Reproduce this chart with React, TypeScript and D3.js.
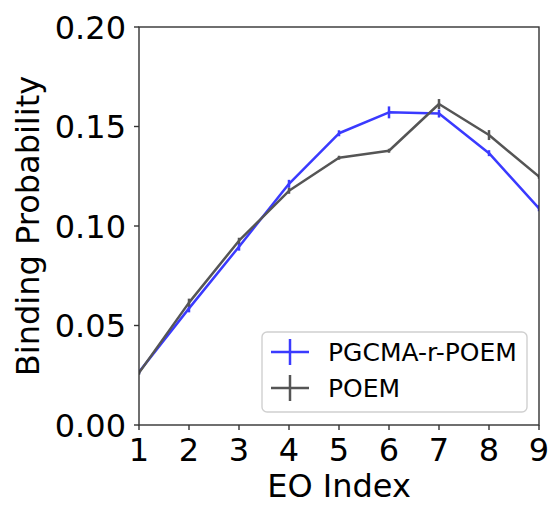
import React from "react";
import * as d3 from "d3";

const eoIndex = [1, 2, 3, 4, 5, 6, 7, 8, 9];
const pgcmaValues = [0.0266, 0.0586, 0.0896, 0.1212, 0.1466, 0.1571, 0.1565, 0.1366, 0.1089];
const pgcmaErrors = [0.001, 0.002, 0.002, 0.002, 0.0015, 0.003, 0.002, 0.0015, 0.0015];
const poemValues = [0.0262, 0.0615, 0.0926, 0.1177, 0.1343, 0.1378, 0.1613, 0.1457, 0.1248];
const poemErrors = [0.001, 0.002, 0.0015, 0.0015, 0.001, 0.001, 0.0025, 0.0025, 0.001];
const yTicks = [0, 0.05, 0.1, 0.15, 0.2];
const seriesNames = ["PGCMA-r-POEM", "POEM"];
const seriesColors = ["#3a3aff", "#555555"];

export default function App() {
  const W = 553, H = 506;
  const left = 139, right = 539, top = 27, bottom = 425;
  const x = d3.scaleLinear().domain([1, 9]).range([left, right]);
  const y = d3.scaleLinear().domain([0, 0.2]).range([bottom, top]);
  const line = d3.line<number>().x((_, i) => x(eoIndex[i])).y((d) => y(d));
  const font = "DejaVu Sans, sans-serif";
  const series = [
    { vals: pgcmaValues, errs: pgcmaErrors },
    { vals: poemValues, errs: poemErrors },
  ];
  const fmt = d3.format(".2f");
  return (
    <svg width={W} height={H} style={{ position: "absolute", left: 0, top: 0 }} fontFamily={font}>
      <rect width={W} height={H} fill="#fff" />
      <defs>
        <clipPath id="plot">
          <rect x={left} y={top} width={right - left} height={bottom - top} />
        </clipPath>
      </defs>
      <g clipPath="url(#plot)">
        {series.map((s, k) => (
          <g key={k}>
            <path d={line(s.vals) || ""} fill="none" stroke={seriesColors[k]} strokeWidth={2.5} strokeLinejoin="round" />
            {s.vals.map((v, i) => (
              <line key={i} x1={x(eoIndex[i])} x2={x(eoIndex[i])} y1={y(v - s.errs[i])} y2={y(v + s.errs[i])}
                stroke={seriesColors[k]} strokeWidth={2.5} />
            ))}
          </g>
        ))}
      </g>
      {/* spines */}
      <rect x={left} y={top} width={right - left} height={bottom - top} fill="none" stroke="#333" strokeWidth={1.4} />
      {/* x ticks */}
      {eoIndex.map((t) => (
        <g key={t}>
          <line x1={x(t)} x2={x(t)} y1={bottom} y2={bottom + 5} stroke="#333" strokeWidth={1.4} />
          <text x={x(t)} y={461} fontSize={32} textAnchor="middle" fill="#000">{t}</text>
        </g>
      ))}
      {yTicks.map((t) => (
        <g key={t}>
          <line x1={left - 5} x2={left} y1={y(t)} y2={y(t)} stroke="#333" strokeWidth={1.4} />
          <text x={left - 13} y={y(t)} dy="0.36em" fontSize={32} textAnchor="end" fill="#000">{fmt(t)}</text>
        </g>
      ))}
      <text x={(left + right) / 2} y={497} fontSize={32} textAnchor="middle" fill="#000">EO Index</text>
      <text transform={`translate(39,${(top + bottom) / 2}) rotate(-90)`} fontSize={32} textAnchor="middle" fill="#000">Binding Probability</text>
      {/* legend */}
      <rect x={262} y={332} width={265} height={80} rx={5} fill="#fff" fillOpacity={0.8} stroke="#d0d0d0" strokeWidth={1.4} />
      {seriesNames.map((n, i) => {
        const cy = 352 + i * 36;
        return (
          <g key={n}>
            <line x1={271} x2={309} y1={cy} y2={cy} stroke={seriesColors[i]} strokeWidth={2.5} />
            <line x1={290} x2={290} y1={cy - 13} y2={cy + 13} stroke={seriesColors[i]} strokeWidth={2.5} />
            <text x={328} y={cy} dy="0.36em" fontSize={25} fill="#000">{n}</text>
          </g>
        );
      })}
    </svg>
  );
}
